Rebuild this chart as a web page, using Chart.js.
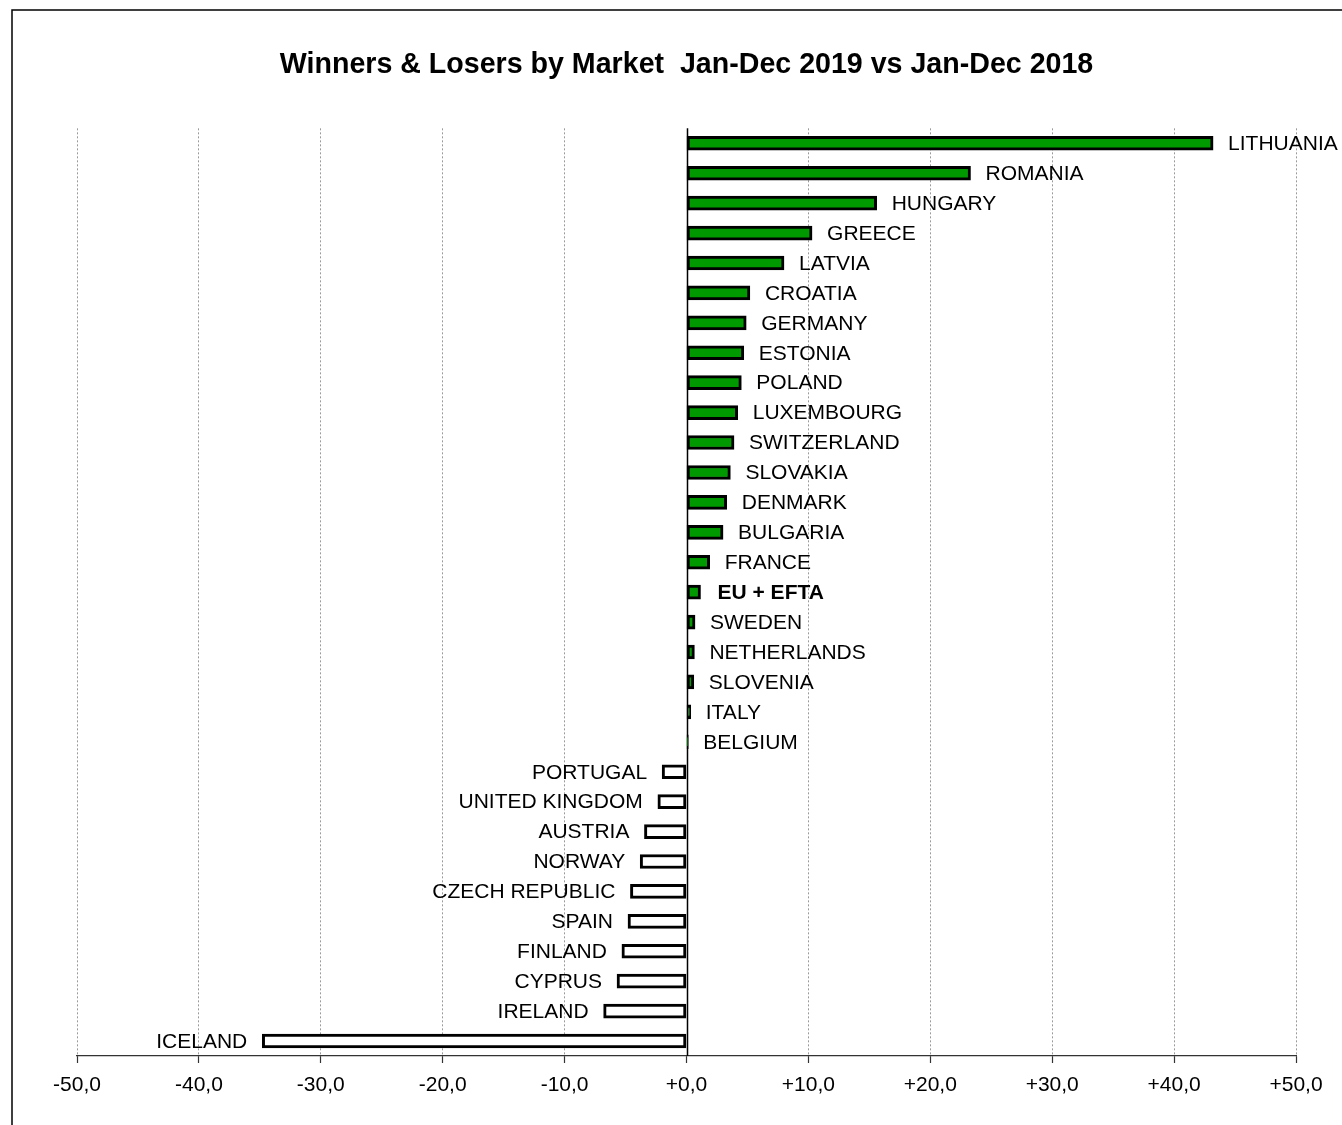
<!DOCTYPE html>
<html>
<head>
<meta charset="utf-8">
<script src="https://cdn.jsdelivr.net/npm/chart.js@4"></script>
<style>
  html, body { margin: 0; padding: 0; background: #ffffff; }
  #wrap { width: 1342px; height: 1125px; }
</style>
</head>
<body>
<div id="wrap"><canvas id="c" width="1342" height="1125"></canvas></div>
<script>
// ---- data ----
const chartTitle = 'Winners & Losers by Market  Jan-Dec 2019 vs Jan-Dec 2018';
const categories = [
  'LITHUANIA', 'ROMANIA', 'HUNGARY', 'GREECE', 'LATVIA', 'CROATIA', 'GERMANY',
  'ESTONIA', 'POLAND', 'LUXEMBOURG', 'SWITZERLAND', 'SLOVAKIA', 'DENMARK',
  'BULGARIA', 'FRANCE', 'EU + EFTA', 'SWEDEN', 'NETHERLANDS', 'SLOVENIA',
  'ITALY', 'BELGIUM', 'PORTUGAL', 'UNITED KINGDOM', 'AUSTRIA', 'NORWAY',
  'CZECH REPUBLIC', 'SPAIN', 'FINLAND', 'CYPRUS', 'IRELAND', 'ICELAND'
];
const changePct = [
  43.2, 23.3, 15.6, 10.3, 8.0, 5.2, 4.9,
  4.7, 4.5, 4.2, 3.9, 3.6, 3.3,
  3.0, 1.9, 1.15, 0.7, 0.65, 0.6,
  0.35, 0.15, -2.0, -2.35, -3.45, -3.8,
  -4.6, -4.8, -5.3, -5.7, -6.8, -34.8
];
const boldCategories = ['EU + EFTA'];
const xTicks = [-50, -40, -30, -20, -10, 0, 10, 20, 30, 40, 50];

const FONT = "'Liberation Sans', Arial, Helvetica, sans-serif";

function fmtTick(v) {
  const s = Math.abs(v).toFixed(1).replace('.', ',');
  return (v < 0 ? '-' : '+') + s;
}

const framePlugin = {
  id: 'frame',
  beforeDraw(chart) {
    const ctx = chart.ctx;
    ctx.save();
    ctx.fillStyle = '#ffffff';
    ctx.fillRect(0, 0, chart.width, chart.height);
    ctx.strokeStyle = '#000000';
    ctx.lineWidth = 1.5;
    ctx.beginPath();
    ctx.moveTo(12, chart.height + 2);
    ctx.lineTo(12, 10);
    ctx.lineTo(chart.width + 2, 10);
    ctx.stroke();
    ctx.restore();
  }
};

const zeroLinePlugin = {
  id: 'zeroLine',
  beforeDatasetsDraw(chart) {
    const x = Math.round(chart.scales.x.getPixelForValue(0)) + 0.5;
    const a = chart.chartArea;
    const ctx = chart.ctx;
    ctx.save();
    ctx.strokeStyle = '#000000';
    ctx.lineWidth = 1.5;
    ctx.beginPath();
    ctx.moveTo(x, a.top);
    ctx.lineTo(x, a.bottom);
    ctx.stroke();
    ctx.restore();
  }
};

const labelPlugin = {
  id: 'barLabels',
  afterDatasetsDraw(chart) {
    const ctx = chart.ctx;
    const meta = chart.getDatasetMeta(0);
    ctx.save();
    ctx.fillStyle = '#000000';
    ctx.textBaseline = 'middle';
    meta.data.forEach((el, i) => {
      const name = categories[i];
      const v = changePct[i];
      const bold = boldCategories.includes(name);
      ctx.font = (bold ? 'bold ' : '') + '21px ' + FONT;
      if (v >= 0) {
        ctx.textAlign = 'left';
        ctx.fillText(name, el.x + (bold ? 17 : 15), el.y + 1);
      } else {
        ctx.textAlign = 'right';
        ctx.fillText(name, el.x - 15, el.y + 1);
      }
    });
    ctx.restore();
  }
};

new Chart(document.getElementById('c'), {
  type: 'bar',
  data: {
    labels: categories,
    datasets: [{
      data: changePct,
      backgroundColor: changePct.map(v => v >= 0 ? '#009900' : '#ffffff'),
      borderColor: '#000000',
      borderWidth: 3,
      borderSkipped: false,
      barThickness: 14
    }]
  },
  plugins: [framePlugin, zeroLinePlugin, labelPlugin],
  options: {
    indexAxis: 'y',
    responsive: false,
    animation: false,
    layout: { padding: { left: 77, right: 46, top: 0, bottom: 0 } },
    plugins: {
      legend: { display: false },
      tooltip: { enabled: false },
      title: {
        display: true,
        text: chartTitle,
        fullSize: false,
        color: '#000000',
        font: { family: FONT, size: 28.6, weight: 'bold' },
        padding: { top: 48, bottom: 46 }
      }
    },
    scales: {
      x: {
        type: 'linear',
        min: -50,
        max: 50,
        afterBuildTicks(scale) { scale.ticks = xTicks.map(v => ({ value: v })); },
        afterFit(scale) { scale.height = 69; },
        ticks: {
          color: '#000000',
          font: { family: FONT, size: 21 },
          padding: 10,
          maxRotation: 0,
          autoSkip: false,
          callback: (v) => fmtTick(v)
        },
        grid: {
          color: (c) => (c.tick && c.tick.value === 0) ? 'rgba(0,0,0,0)' : '#9a9a9a',
          lineWidth: 1,
          drawTicks: true,
          tickLength: 7,
          tickColor: '#333333',
          tickWidth: 1.2
        },
        border: { display: true, color: '#333333', width: 1.2, dash: [2, 2] }
      },
      y: {
        type: 'category',
        display: false
      }
    }
  }
});
</script>
</body>
</html>
